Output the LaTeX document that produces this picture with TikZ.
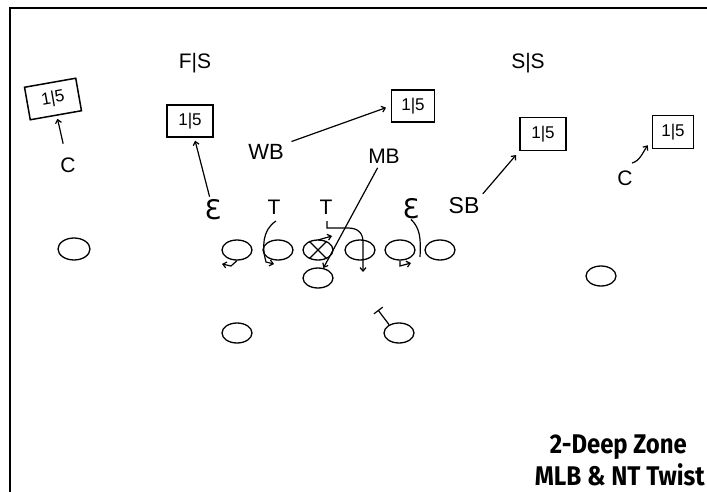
\documentclass[tikz,border=0pt]{standalone}
\usepackage{graphicx}
\usepackage{fontspec}
\setmainfont{Liberation Sans}
\newfontfamily\dv{DejaVu Sans}
\newfontfamily\titlefont{Fira Sans}
\usetikzlibrary{shapes.geometric,arrows.meta}
\begin{document}
\begin{tikzpicture}[x=1pt,y=-1pt,
  pen/.style={line width=1.2pt,black},
  player/.style={draw,ellipse,line width=1.3pt,minimum width=30pt,minimum height=20pt,inner sep=0pt},
  zone/.style={draw,line width=1.5pt,inner sep=0pt,font=\fontsize{17}{17}\selectfont},
  lab/.style={font=\fontsize{21}{21}\selectfont,inner sep=0pt},
  eps/.style={font=\dv\fontsize{27}{27}\selectfont,inner sep=0pt},
  arr/.style={pen,-{Straight Barb[length=3.5pt,width=6pt]}},
  ttl/.style={anchor=base east,inner sep=0pt,font=\titlefont\bfseries\fontsize{27}{27}\selectfont},
]
\useasboundingbox (0,0) rectangle (707,492);
\draw[line width=2pt] (10,492) -- (10,8) -- (707,8);

% zones
\node[zone,rotate=10,minimum width=52pt,minimum height=33pt] (z1) at (53,99) {1|5};
\node[zone,minimum width=46pt,minimum height=32pt] (z2) at (190,121) {1|5};
\node[zone,minimum width=43pt,minimum height=32pt] (z3) at (413,106) {1|5};
\node[zone,minimum width=46pt,minimum height=33pt] (z4) at (543,134) {1|5};
\node[zone,minimum width=41pt,minimum height=33pt] (z5) at (673,132) {1|5};

% labels
\node[lab] (fs) at (195,63) {F|S};
\node[lab] (ss) at (528,63) {S|S};
\node[lab] (cl) at (68,165) {C};
\node[lab,font=\fontsize{22}{22}\selectfont] (wb) at (266,152) {WB};
\node[eps] (el) at (213,210) {Ɛ};
\node[lab] (ta) at (274,207) {T};
\node[lab] (tb) at (326,207) {T};
\node[lab] (mb) at (384,156) {MB};
\node[eps] (er) at (411,209) {Ɛ};
\node[lab,font=\fontsize{23}{23}\selectfont] (sb) at (464,206) {SB};
\node[lab] (cr) at (625,178) {C};

% players
\node[player,minimum width=32pt,minimum height=22pt] (o0) at (74,249) {};
\node[player] (o1) at (237,250) {};
\node[player] (o2) at (278,250) {};
\node[player] (ox) at (318,250) {};
\node[player] (o4) at (360,250) {};
\node[player] (o6) at (400,250) {};
\node[player] (o7) at (440,250) {};
\node[player] (ou) at (318,278) {};
\node[player] (o8) at (601,276) {};
\node[player] (o9) at (237,333) {};
\node[player] (o10) at (399,333) {};

\draw[pen] (ox.135) -- (ox.-45) (ox.45) -- (ox.-135);

% coordinates for free ends
\coordinate (n1) at (276,221);
\coordinate (n0) at (327,221);
\coordinate (n2) at (348,228);
\coordinate (n3) at (363,272);
\coordinate (n4) at (266,262);
\coordinate (n5) at (274,264);
\coordinate (n6) at (318,240);
\coordinate (n7) at (332,236);
\coordinate (n8) at (231,266);
\coordinate (n9) at (222,264);
\coordinate (n10) at (420,257);
\coordinate (n11) at (400,266);
\coordinate (n12) at (411,263);
\coordinate (n13) at (378,310);
\coordinate (crs) at (632,163);

% zone drops
\draw[arr,shorten <=14pt,shorten >=3pt] (cl) -- (z1);
\draw[arr,shorten <=3pt,shorten >=3pt] (el) -- (z2);
\draw[arr,shorten <=8pt,shorten >=5pt] (wb.north east) -- (z3.west);
\draw[arr,shorten <=5pt,shorten >=5pt] (sb.north east) -- (z4.south west);
\draw[arr] (crs) .. controls (640,161) and (643,152) .. ([xshift=-4pt,yshift=4pt]z5.south west);

% MLB
\draw[arr,shorten <=5pt] (mb) -- (ou);
% NT twist
\draw[arr] (n0) |- (n2) .. controls (358,228) and (363,233) .. (363,242) -- (n3);
\draw[arr] (n6) -- (n7);
% tackle / end
\draw[arr] (n1) .. controls (262,230) and (262,248) .. (n4) -- (n5);
\draw[pen] (er.south) .. controls (420,228) and (421,238) .. (n10);
\draw[arr] (o1.south) -- (n8) -- (n9);
\draw[arr] (o6.south) -- (n11) -- (n12);
\draw[pen,-{Bar[width=11pt]}] (o10.140) -- (n13);

% title
\node[ttl] (title1) at (687,453) {\resizebox{137pt}{\height}{2-Deep Zone}};
\node[ttl] (title2) at (705,485) {\resizebox{170pt}{\height}{MLB \& NT Twist}};
\end{tikzpicture}
\end{document}
